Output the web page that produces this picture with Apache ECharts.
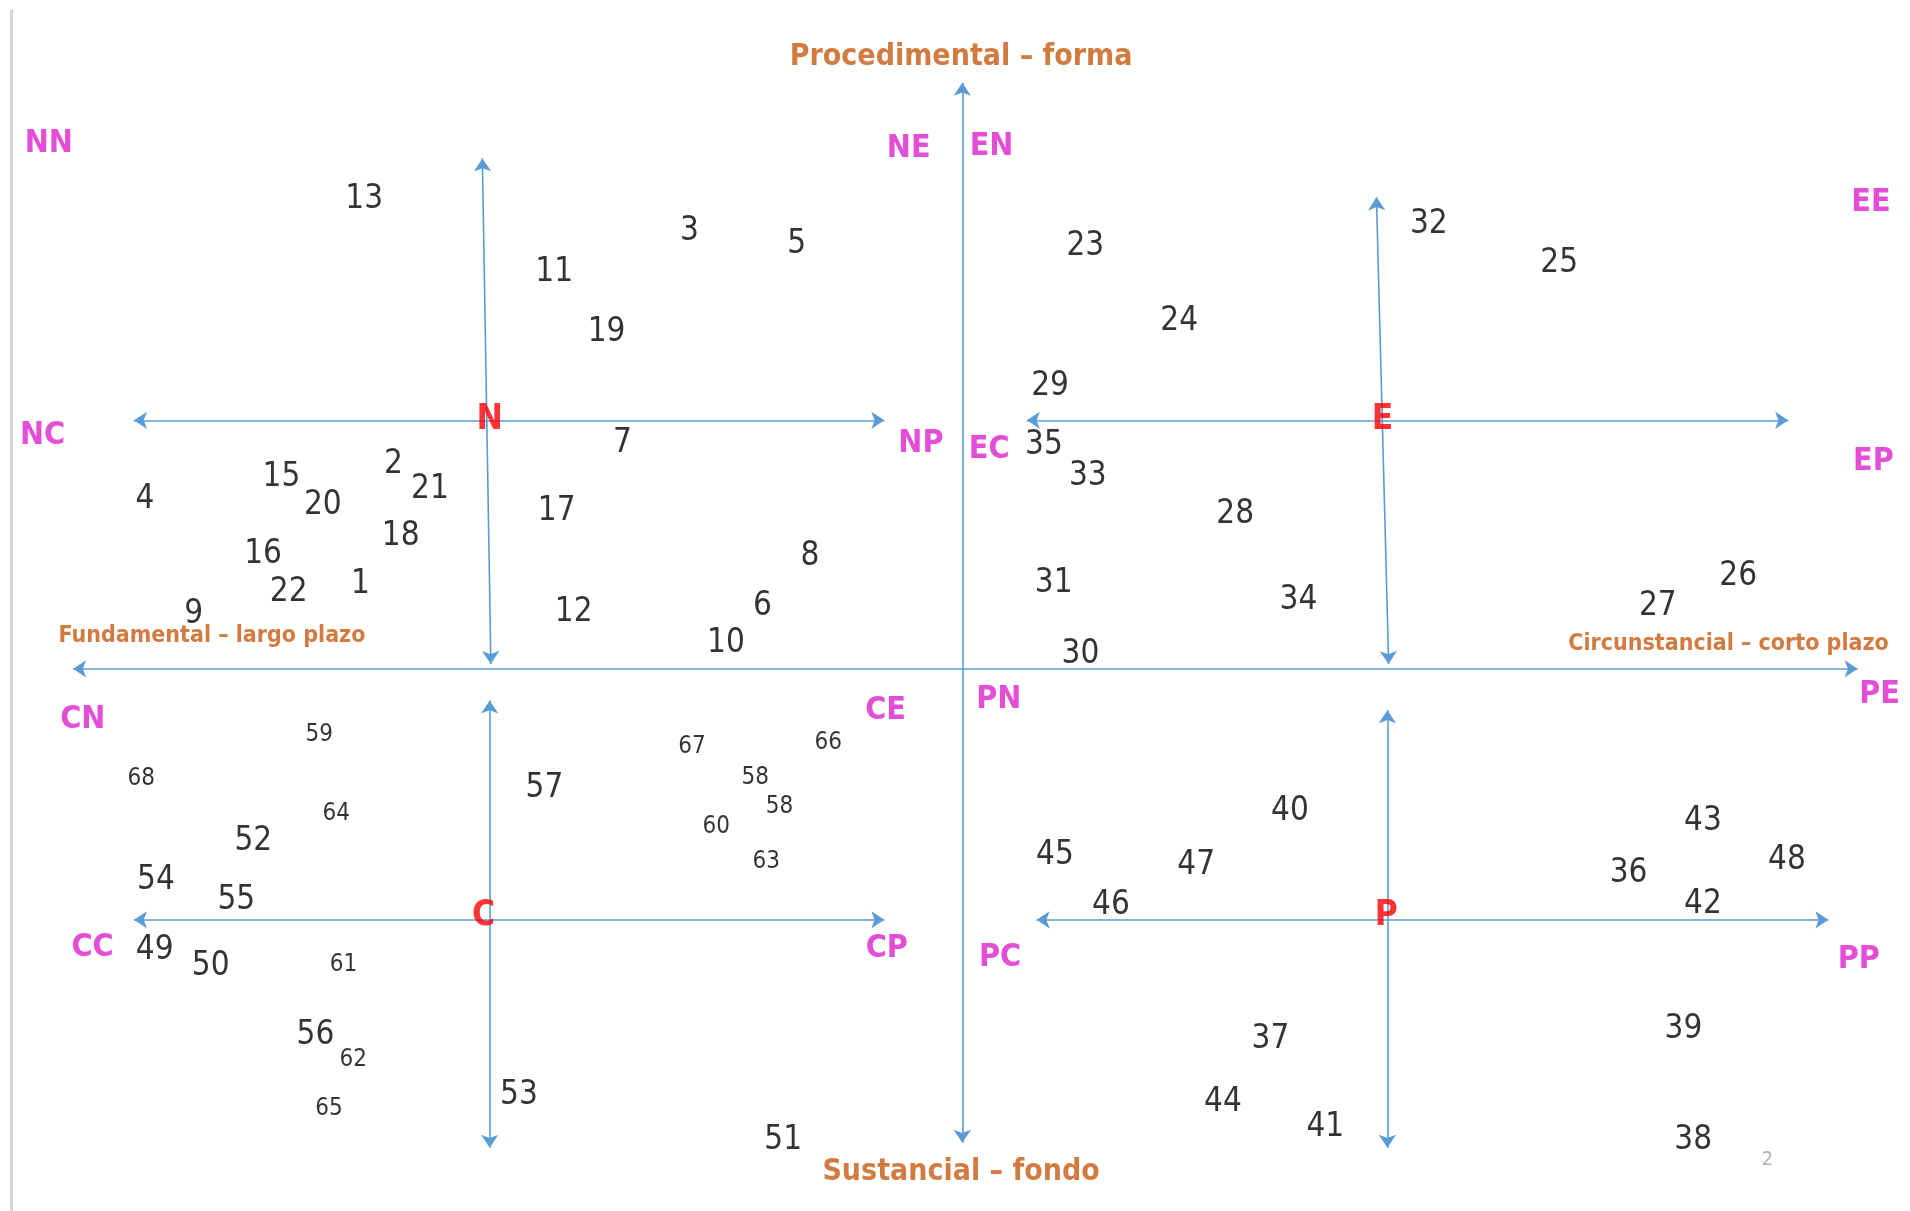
<!DOCTYPE html>
<html>
<head>
<meta charset="utf-8">
<script src="https://cdn.jsdelivr.net/npm/echarts@6/dist/echarts.min.js"></script>
<style>
  html, body { margin: 0; padding: 0; background: #fff; }
  #chart { width: 1910px; height: 1211px; }
</style>
</head>
<body>
<div id="chart"></div>
<script>
// positions, in a 1568 x 994 frame

// numbered items, normal size
const bigNumbers = [
  ["13", 299, 164], ["3", 566, 190], ["5", 654, 201], ["11", 455, 224],
  ["19", 498, 273], ["7", 511, 364], ["2", 323, 381], ["15", 231, 392],
  ["21", 353, 402], ["4", 119, 410], ["20", 265, 415], ["17", 457, 420],
  ["18", 329, 440], ["16", 216, 455], ["8", 665, 457], ["22", 237, 486],
  ["1", 296, 480], ["9", 159, 504], ["12", 471, 503], ["6", 626, 498],
  ["10", 596, 528],
  ["23", 891, 202], ["32", 1173, 184], ["25", 1280, 216], ["24", 968, 264],
  ["29", 862, 317], ["35", 857, 366], ["33", 893, 391], ["28", 1014, 422],
  ["31", 865, 479], ["34", 1066, 493], ["26", 1427, 473], ["27", 1361, 498],
  ["30", 887, 537],
  ["40", 1059, 666], ["43", 1398, 674], ["45", 866, 702], ["47", 982, 710],
  ["48", 1467, 706], ["36", 1337, 717], ["42", 1398, 742], ["46", 912, 743],
  ["37", 1043, 853], ["39", 1382, 845], ["44", 1004, 905], ["41", 1088, 925],
  ["38", 1390, 936],
  ["57", 447, 647], ["52", 208, 691], ["54", 128, 723], ["55", 194, 739],
  ["49", 127, 780], ["50", 173, 793], ["56", 259, 850], ["53", 426, 899],
  ["51", 643, 936]
];

// numbered items, small size
const smallNumbers = [
  ["59", 262, 603], ["67", 568, 613], ["66", 680, 610], ["68", 116, 639],
  ["58", 620, 638], ["58", 640, 662], ["64", 276, 668], ["60", 588, 679],
  ["63", 629, 707], ["61", 282, 792], ["62", 290, 870], ["65", 270, 910]
];

// sub-quadrant tags
const tags = [
  ["NN", 40, 118], ["NE", 746, 122], ["EN", 814, 120], ["EE", 1536, 166],
  ["NC", 35, 358], ["NP", 756, 364], ["EC", 812, 369], ["EP", 1538, 379],
  ["CN", 68, 591], ["CE", 727, 583], ["PN", 820, 574], ["PE", 1543, 570],
  ["CC", 76, 778], ["CP", 728, 779], ["PC", 821, 786], ["PP", 1526, 788]
];

// quadrant centres
const centres = [["N", 402, 345], ["E", 1135, 345], ["C", 397, 752], ["P", 1138, 752]];

// axis titles
const mainTitles = [["Procedimental – forma", 789, 47], ["Sustancial – fondo", 789, 962]];
const sideTitles = [["Fundamental – largo plazo", 174, 522], ["Circunstancial – corto plazo", 1419, 529]];

// arrows (from, to), double headed
const arrows = [
  [[60, 549], [1525, 549]], [[790, 68], [790, 938]],
  [[110, 345], [726, 345]], [[396, 130], [403, 545]],
  [[843, 345], [1468, 345]], [[1130, 162], [1140, 545]],
  [[110, 755], [726, 755]], [[402, 575], [402, 942]],
  [[851, 755], [1501, 755]], [[1139, 583], [1139, 942]]
];

const font = "'Liberation Sans Narrow', 'DejaVu Sans Condensed', sans-serif";

function textSeries(list, size, color, weight) {
  return {
    type: "scatter",
    symbolSize: 0,
    silent: true,
    data: list.map((d) => ({ name: d[0], value: [d[1], d[2]] })),
    label: {
      show: true,
      position: "inside",
      formatter: (p) => p.name,
      fontFamily: font,
      fontSize: size,
      color: color,
      fontWeight: weight || "normal",
    },
  };
}

const myChart = echarts.init(document.getElementById("chart"));

let option = {
  backgroundColor: "#fff",
  animation: false,
  grid: { left: 0, right: 0, top: 0, bottom: 0 },
  xAxis: { type: "value", min: 0, max: 1568, show: false },
  yAxis: { type: "value", min: 0, max: 994, inverse: true, show: false },
  series: [
    {
      type: "lines",
      coordinateSystem: "cartesian2d",
      silent: true,
      lineStyle: { color: "#d4d4d4", width: 3, opacity: 1 },
      data: [{ coords: [[9, 8], [9, 994]] }],
    },
    {
      type: "lines",
      coordinateSystem: "cartesian2d",
      silent: true,
      symbol: ["arrow", "arrow"],
      symbolSize: 13,
      lineStyle: { color: "#5b9bd5", width: 1.6, opacity: 1 },
      data: arrows.map((a) => ({ coords: a })),
    },
    textSeries(bigNumbers, 33, "#000"),
    textSeries(smallNumbers, 24, "#000"),
    textSeries(tags, 32, "#dd22cc", "bold"),
    textSeries(centres, 35, "#ff0000", "bold"),
    textSeries(mainTitles, 30, "#c55a11", "bold"),
    textSeries(sideTitles, 23, "#c55a11", "bold"),
    textSeries([["2", 1451, 952]], 20, "#999"),
  ],
};

option && myChart.setOption(option);
</script>
</body>
</html>
